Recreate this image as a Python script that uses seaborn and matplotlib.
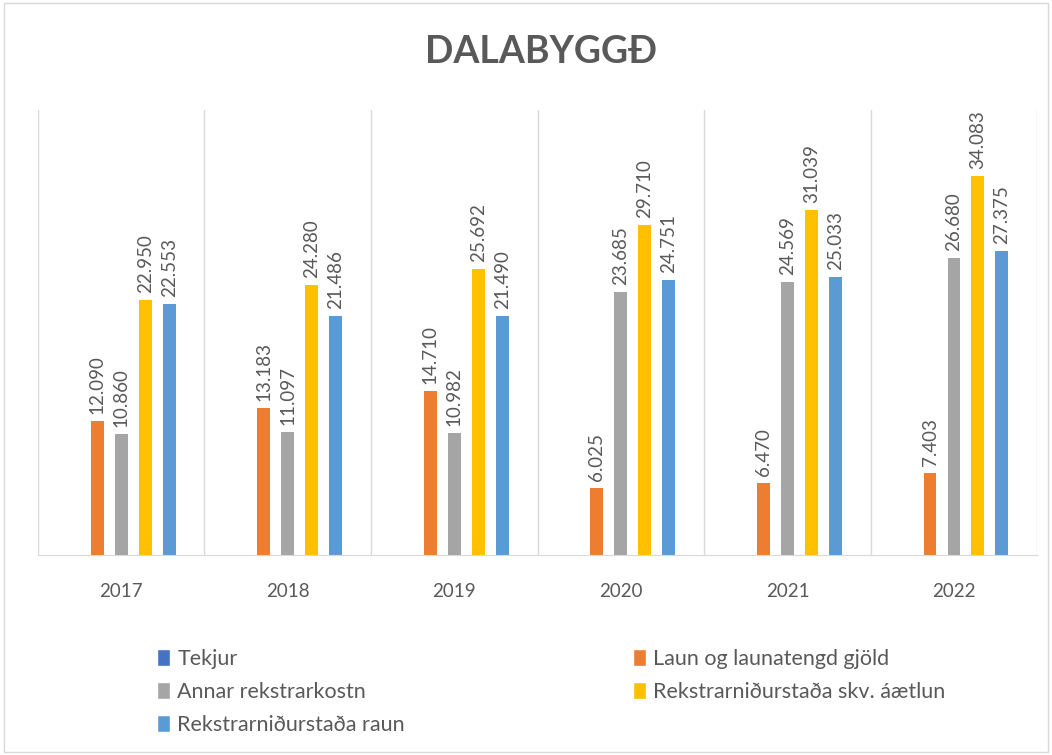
import numpy as np
import pandas as pd
import seaborn as sns
import matplotlib.pyplot as plt
from matplotlib.patches import Patch

years = ['2017', '2018', '2019', '2020', '2021', '2022']
series = ['Tekjur', 'Laun og launatengd gjöld', 'Annar rekstrarkostn',
          'Rekstrarniðurstaða skv. áætlun', 'Rekstrarniðurstaða raun']
tekjur = [np.nan, np.nan, np.nan, np.nan, np.nan, np.nan]
laun = [12090, 13183, 14710, 6025, 6470, 7403]
annar = [10860, 11097, 10982, 23685, 24569, 26680]
aaetlun = [22950, 24280, 25692, 29710, 31039, 34083]
raun = [22553, 21486, 21490, 24751, 25033, 27375]
colors = ['#4472C4', '#ED7D31', '#A5A5A5', '#FFC000', '#5B9BD5']

df = pd.DataFrame({'ar': years * 5,
                   'flokkur': sum([[s] * 6 for s in series], []),
                   'gildi': tekjur + laun + annar + aaetlun + raun})

sns.set_style('white')
plt.rcParams['font.family'] = ['Lato', 'DejaVu Sans']
txt = '#595959'

fig = plt.figure(figsize=(10.52, 7.55), dpi=100)
ax = fig.add_axes([0.036, 0.265, 0.95, 0.589])
sns.barplot(data=df, x='ar', y='gildi', hue='flokkur', hue_order=series,
            palette=colors, saturation=1, width=0.72, gap=0.46, linewidth=0,
            ax=ax, legend=False)

for c in ax.containers:
    labs = ['' if np.isnan(v) else f'{v:,.0f}'.replace(',', '.') for v in c.datavalues]
    ax.bar_label(c, labels=labs, rotation=90, padding=5, fontsize=13.5, color=txt)

ax.set_ylim(0, 40000)
ax.set_xlim(-0.5, 5.5)
ax.set_yticks([])
ax.set_xlabel('')
ax.set_ylabel('')
ax.set_xticks(np.arange(-0.5, 6), minor=True)
ax.grid(which='minor', axis='x', color='#d9d9d9', lw=1)
ax.tick_params(axis='x', which='both', length=0, pad=20, labelsize=13.5, labelcolor=txt)
for s in ['top', 'left', 'right']:
    ax.spines[s].set_visible(False)
ax.spines['bottom'].set_color('#d9d9d9')

fig.text(0.514, 1 - 52 / 755, 'DALABYGGÐ', ha='center', va='center',
         fontsize=27, fontweight='bold', color=txt)

def leg(idx, x):
    h = [Patch(facecolor=colors[i], label=series[i]) for i in idx]
    l = fig.legend(handles=h, loc='upper left', bbox_to_anchor=(x, 1 - 649 / 755),
                   frameon=False, fontsize=15.5, labelcolor=txt, handlelength=0.6,
                   handleheight=0.85, handletextpad=0.35, labelspacing=0.6,
                   borderaxespad=0, borderpad=0)
    return l

leg([0, 2, 4], 157 / 1052)
leg([1, 3], 633 / 1052)

fig.patches.append(plt.Rectangle((0.004, 0.004), 0.992, 0.992, transform=fig.transFigure,
                                 fill=False, edgecolor='#d9d9d9', lw=1))
fig.savefig('out.png', dpi=100)
